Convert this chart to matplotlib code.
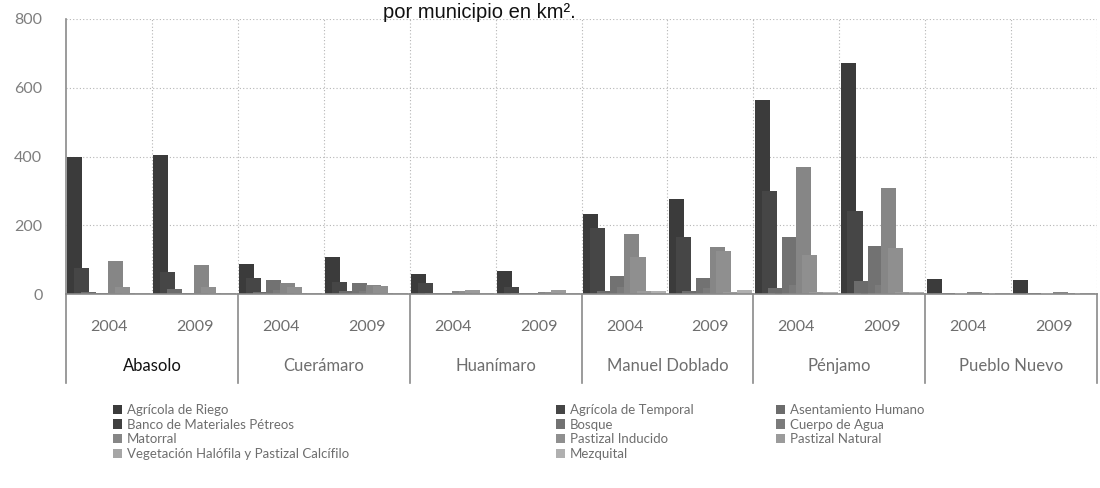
import matplotlib
matplotlib.use("Agg")
import matplotlib.pyplot as plt
from matplotlib.patches import Patch
import numpy as np

plt.rcParams["font.family"] = ["Lato", "DejaVu Sans"]

MUNIS = ["Abasolo", "Cuerámaro", "Huanímaro", "Manuel Doblado", "Pénjamo", "Pueblo Nuevo"]
YEARS = ["2004", "2009"]
SERIES = ["Agrícola de Riego", "Agrícola de Temporal", "Asentamiento Humano",
          "Banco de Materiales Pétreos", "Bosque", "Cuerpo de Agua",
          "Matorral", "Pastizal Inducido", "Pastizal Natural",
          "Vegetación Halófila y Pastizal Calcífilo", "Mezquital"]

# order: Ab04 Ab09 Cu04 Cu09 Hu04 Hu09 MD04 MD09 Pe04 Pe09 PN04 PN09
riego     = [399, 404, 87, 107, 58, 67, 234, 275, 564, 671, 43, 41]
temporal  = [75, 65, 47, 36, 31, 21, 191, 165, 300, 242, 2, 1]
asent     = [5, 15, 6, 10, 3, 4, 8, 10, 18, 37, 2, 2]
banco     = [1, 1, 1, 1, 0, 0, 1, 1, 2, 2, 0, 0]
bosque    = [3, 3, 40, 31, 2, 2, 53, 47, 167, 140, 1, 1]
agua      = [4, 4, 12, 10, 1, 1, 20, 18, 25, 25, 1, 1]
matorral  = [96, 84, 33, 26, 8, 5, 174, 136, 370, 307, 7, 5]
inducido  = [21, 21, 20, 23, 9, 6, 108, 126, 113, 133, 2, 2]
natural   = [2, 2, 3, 3, 12, 12, 9, 7, 6, 5, 1, 1]
halofila  = [1, 1, 1, 1, 2, 2, 4, 4, 2, 2, 0, 0]
mezquital = [2, 2, 2, 2, 3, 3, 10, 12, 5, 6, 3, 3]
VALUES = [riego, temporal, asent, banco, bosque, agua, matorral, inducido, natural, halofila, mezquital]

COLORS = ["#3b3b3b", "#464646", "#6c6c6c", "#404040", "#727272", "#7b7b7b",
          "#868686", "#8f8f8f", "#9b9b9b", "#a6a6a6", "#b0b0b0"]

fig = plt.figure(figsize=(11, 4.88), dpi=100)
ax = fig.add_axes([66/1100, 1-294/488, (1097-66)/1100, 275/488])

ncat = len(MUNIS)*len(YEARS)
W, S, M = 0.175, 0.079, 0.017
x0 = np.arange(ncat)
for k, (name, vals, c) in enumerate(zip(SERIES, VALUES, COLORS)):
    ax.bar(x0 + M + k*S, vals, width=W, align="edge", color=c, label=name, zorder=2)

ax.set_xlim(0, ncat)
ax.set_ylim(0, 800)
ax.set_yticks([0, 200, 400, 600, 800])
ax.tick_params(axis="y", length=0, pad=17, labelsize=11.5, labelcolor="#7f7f7f")
ax.set_xticks([])
for yv in [200, 400, 600, 800]:
    ax.axhline(yv, color="#b5b5b5", lw=0.8, ls=(0, (1, 2)), zorder=1)
for xv in range(1, ncat+1):
    ax.axvline(xv, color="#b5b5b5", lw=0.8, ls=(0, (1, 2)), zorder=1)
for s in ["top", "right"]:
    ax.spines[s].set_visible(False)
ax.spines["left"].set_color("#8a8a8a")
ax.spines["bottom"].set_color("#8a8a8a")
ax.spines["left"].set_linewidth(1.2)
ax.spines["bottom"].set_linewidth(1.2)

# multi-level category axis
tr = ax.get_xaxis_transform()
for g in range(len(MUNIS)+1):
    ax.plot([2*g, 2*g], [0, -0.324], transform=tr, color="#8a8a8a", lw=1.2, clip_on=False)
for i in range(ncat):
    ax.text(i+0.5, -0.12, YEARS[i % 2], transform=tr, ha="center", va="center",
            fontsize=11.5, color="#6e6e6e")
for g, m in enumerate(MUNIS):
    ax.text(2*g+1, -0.262, m, transform=tr, ha="center", va="center", fontsize=12,
            color="#111111" if g == 0 else "#6e6e6e")

fig.text(479/1100, 1-12/488, "por municipio en km².", ha="center", va="center",
         fontsize=14.5, family="Liberation Sans", color="#111111")

handles = [Patch(facecolor=c, edgecolor="none") for c in COLORS]
cols = [(113, [0, 3, 6, 9]), (556, [1, 4, 7, 10]), (776, [2, 5, 8])]
for xc, idx in cols:
    fig.legend([handles[i] for i in idx], [SERIES[i] for i in idx], loc="upper left",
               bbox_to_anchor=(xc/1100, 1-404/488), frameon=False, fontsize=9.5,
               labelcolor="#6e6e6e", handlelength=0.7, handleheight=0.7,
               handletextpad=0.35, labelspacing=0.2, borderpad=0, borderaxespad=0)

fig.savefig("out.png", dpi=100)
